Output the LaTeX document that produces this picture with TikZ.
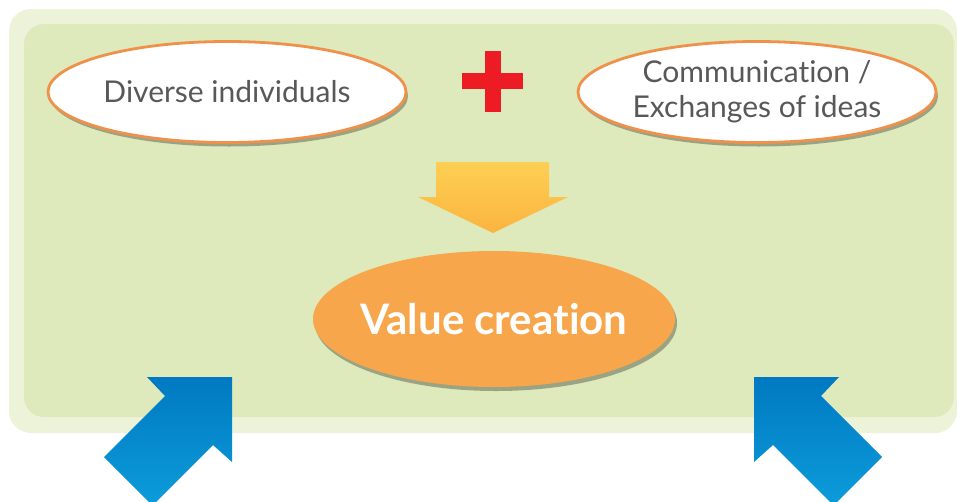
\documentclass[tikz,border=0pt]{standalone}
\usepackage{fontspec}
\setmainfont{Lato}[Ligatures=NoCommon]
\usetikzlibrary{shapes.geometric,shadows}
\definecolor{outerG}{RGB}{236,243,216}
\definecolor{innerG}{RGB}{222,234,188}
\definecolor{borderO}{RGB}{240,145,75}
\definecolor{valueO}{RGB}{248,166,76}
\definecolor{plusRed}{RGB}{237,28,36}
\definecolor{yelTop}{RGB}{253,207,82}
\definecolor{yelBot}{RGB}{251,180,64}
\definecolor{blueD}{RGB}{0,121,193}
\definecolor{blueL}{RGB}{12,156,218}
\definecolor{textGray}{RGB}{88,88,88}
\tikzset{
  bubble/.style={ellipse, draw=borderO, line width=2.8pt, fill=white,
    minimum width=358pt, minimum height=101pt, inner sep=0pt, text=textGray,
    align=center, font=\fontsize{30}{35}\selectfont,
    drop shadow={shadow xshift=2pt, shadow yshift=-4pt, fill=black, opacity=0.3}},
  valuebub/.style={ellipse, fill=valueO, minimum width=362pt, minimum height=136pt,
    inner sep=0pt, text=white, font=\bfseries\fontsize{42}{48}\selectfont,
    drop shadow={shadow xshift=2pt, shadow yshift=-4pt, fill=black, opacity=0.3}},
  yarrow/.style={top color=yelTop, bottom color=yelBot},
  barrow/.style={top color=blueD, bottom color=blueL},
}
\begin{document}
\begin{tikzpicture}[x=1pt,y=-1pt]
\useasboundingbox (0,0) rectangle (957,501);
% panels
\fill[outerG, rounded corners=22pt] (9,9) rectangle (957,433);
\fill[innerG, rounded corners=20pt] (24,24) rectangle (954,417);
% top bubbles
\node[bubble] (div) at (227,92) {Diverse individuals};
\node[bubble] (comm) at (757,92) {Communication /\\Exchanges of ideas};
% plus sign
\fill[plusRed] (485,51) rectangle (501,112);
\fill[plusRed] (462,73) rectangle (523,89);
% yellow arrow
\shade[yarrow] (436,162) -- (549,162) -- (549,197) -- (568,197) -- (493,233)
  -- (418,197) -- (436,197) -- cycle;
% value creation
\node[valuebub] (val) at (494,319) {\makebox[0pt]{Value creation}};
% blue arrows
\shade[barrow] (232,377) -- (232,462) -- (213,445) -- (152.5,505.5) -- (104,457)
  -- (165,396) -- (147,377) -- cycle;
\shade[barrow] (754,377) -- (754,462) -- (773,445) -- (833.5,505.5) -- (882,457)
  -- (821,396) -- (839,377) -- cycle;
\end{tikzpicture}
\end{document}
